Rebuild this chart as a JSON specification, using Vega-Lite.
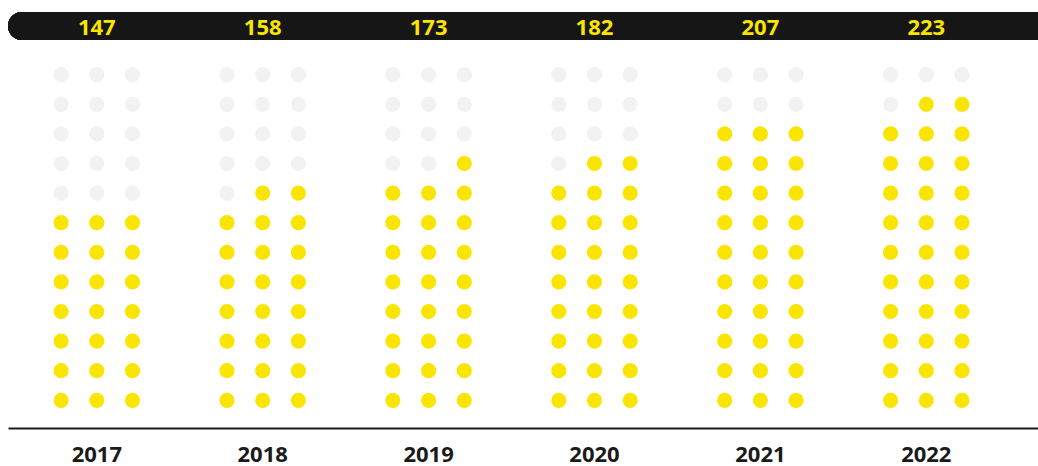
{
  "$schema": "https://vega.github.io/schema/vega-lite/v6.json",
  "width": 1030,
  "height": 428,
  "autosize": {"type": "none"},
  "padding": {"left": 8, "top": 0, "right": 0, "bottom": 38},
  "background": "#ffffff",
  "config": {"view": {"stroke": null}},
  "datasets": {
    "totals": [
      {"year": "2017", "value": 147},
      {"year": "2018", "value": 158},
      {"year": "2019", "value": 173},
      {"year": "2020", "value": 182},
      {"year": "2021", "value": 207},
      {"year": "2022", "value": 223}
    ],
    "dots": [
      {"year":"2017","col":1,"row":1,"status":"filled"},{"year":"2017","col":2,"row":1,"status":"filled"},{"year":"2017","col":3,"row":1,"status":"filled"},
      {"year":"2017","col":1,"row":2,"status":"filled"},{"year":"2017","col":2,"row":2,"status":"filled"},{"year":"2017","col":3,"row":2,"status":"filled"},
      {"year":"2017","col":1,"row":3,"status":"filled"},{"year":"2017","col":2,"row":3,"status":"filled"},{"year":"2017","col":3,"row":3,"status":"filled"},
      {"year":"2017","col":1,"row":4,"status":"filled"},{"year":"2017","col":2,"row":4,"status":"filled"},{"year":"2017","col":3,"row":4,"status":"filled"},
      {"year":"2017","col":1,"row":5,"status":"filled"},{"year":"2017","col":2,"row":5,"status":"filled"},{"year":"2017","col":3,"row":5,"status":"filled"},
      {"year":"2017","col":1,"row":6,"status":"filled"},{"year":"2017","col":2,"row":6,"status":"filled"},{"year":"2017","col":3,"row":6,"status":"filled"},
      {"year":"2017","col":1,"row":7,"status":"filled"},{"year":"2017","col":2,"row":7,"status":"filled"},{"year":"2017","col":3,"row":7,"status":"filled"},
      {"year":"2017","col":1,"row":8,"status":"empty"},{"year":"2017","col":2,"row":8,"status":"empty"},{"year":"2017","col":3,"row":8,"status":"empty"},
      {"year":"2017","col":1,"row":9,"status":"empty"},{"year":"2017","col":2,"row":9,"status":"empty"},{"year":"2017","col":3,"row":9,"status":"empty"},
      {"year":"2017","col":1,"row":10,"status":"empty"},{"year":"2017","col":2,"row":10,"status":"empty"},{"year":"2017","col":3,"row":10,"status":"empty"},
      {"year":"2017","col":1,"row":11,"status":"empty"},{"year":"2017","col":2,"row":11,"status":"empty"},{"year":"2017","col":3,"row":11,"status":"empty"},
      {"year":"2017","col":1,"row":12,"status":"empty"},{"year":"2017","col":2,"row":12,"status":"empty"},{"year":"2017","col":3,"row":12,"status":"empty"},

      {"year":"2018","col":1,"row":1,"status":"filled"},{"year":"2018","col":2,"row":1,"status":"filled"},{"year":"2018","col":3,"row":1,"status":"filled"},
      {"year":"2018","col":1,"row":2,"status":"filled"},{"year":"2018","col":2,"row":2,"status":"filled"},{"year":"2018","col":3,"row":2,"status":"filled"},
      {"year":"2018","col":1,"row":3,"status":"filled"},{"year":"2018","col":2,"row":3,"status":"filled"},{"year":"2018","col":3,"row":3,"status":"filled"},
      {"year":"2018","col":1,"row":4,"status":"filled"},{"year":"2018","col":2,"row":4,"status":"filled"},{"year":"2018","col":3,"row":4,"status":"filled"},
      {"year":"2018","col":1,"row":5,"status":"filled"},{"year":"2018","col":2,"row":5,"status":"filled"},{"year":"2018","col":3,"row":5,"status":"filled"},
      {"year":"2018","col":1,"row":6,"status":"filled"},{"year":"2018","col":2,"row":6,"status":"filled"},{"year":"2018","col":3,"row":6,"status":"filled"},
      {"year":"2018","col":1,"row":7,"status":"filled"},{"year":"2018","col":2,"row":7,"status":"filled"},{"year":"2018","col":3,"row":7,"status":"filled"},
      {"year":"2018","col":1,"row":8,"status":"empty"},{"year":"2018","col":2,"row":8,"status":"filled"},{"year":"2018","col":3,"row":8,"status":"filled"},
      {"year":"2018","col":1,"row":9,"status":"empty"},{"year":"2018","col":2,"row":9,"status":"empty"},{"year":"2018","col":3,"row":9,"status":"empty"},
      {"year":"2018","col":1,"row":10,"status":"empty"},{"year":"2018","col":2,"row":10,"status":"empty"},{"year":"2018","col":3,"row":10,"status":"empty"},
      {"year":"2018","col":1,"row":11,"status":"empty"},{"year":"2018","col":2,"row":11,"status":"empty"},{"year":"2018","col":3,"row":11,"status":"empty"},
      {"year":"2018","col":1,"row":12,"status":"empty"},{"year":"2018","col":2,"row":12,"status":"empty"},{"year":"2018","col":3,"row":12,"status":"empty"},

      {"year":"2019","col":1,"row":1,"status":"filled"},{"year":"2019","col":2,"row":1,"status":"filled"},{"year":"2019","col":3,"row":1,"status":"filled"},
      {"year":"2019","col":1,"row":2,"status":"filled"},{"year":"2019","col":2,"row":2,"status":"filled"},{"year":"2019","col":3,"row":2,"status":"filled"},
      {"year":"2019","col":1,"row":3,"status":"filled"},{"year":"2019","col":2,"row":3,"status":"filled"},{"year":"2019","col":3,"row":3,"status":"filled"},
      {"year":"2019","col":1,"row":4,"status":"filled"},{"year":"2019","col":2,"row":4,"status":"filled"},{"year":"2019","col":3,"row":4,"status":"filled"},
      {"year":"2019","col":1,"row":5,"status":"filled"},{"year":"2019","col":2,"row":5,"status":"filled"},{"year":"2019","col":3,"row":5,"status":"filled"},
      {"year":"2019","col":1,"row":6,"status":"filled"},{"year":"2019","col":2,"row":6,"status":"filled"},{"year":"2019","col":3,"row":6,"status":"filled"},
      {"year":"2019","col":1,"row":7,"status":"filled"},{"year":"2019","col":2,"row":7,"status":"filled"},{"year":"2019","col":3,"row":7,"status":"filled"},
      {"year":"2019","col":1,"row":8,"status":"filled"},{"year":"2019","col":2,"row":8,"status":"filled"},{"year":"2019","col":3,"row":8,"status":"filled"},
      {"year":"2019","col":1,"row":9,"status":"empty"},{"year":"2019","col":2,"row":9,"status":"empty"},{"year":"2019","col":3,"row":9,"status":"filled"},
      {"year":"2019","col":1,"row":10,"status":"empty"},{"year":"2019","col":2,"row":10,"status":"empty"},{"year":"2019","col":3,"row":10,"status":"empty"},
      {"year":"2019","col":1,"row":11,"status":"empty"},{"year":"2019","col":2,"row":11,"status":"empty"},{"year":"2019","col":3,"row":11,"status":"empty"},
      {"year":"2019","col":1,"row":12,"status":"empty"},{"year":"2019","col":2,"row":12,"status":"empty"},{"year":"2019","col":3,"row":12,"status":"empty"},

      {"year":"2020","col":1,"row":1,"status":"filled"},{"year":"2020","col":2,"row":1,"status":"filled"},{"year":"2020","col":3,"row":1,"status":"filled"},
      {"year":"2020","col":1,"row":2,"status":"filled"},{"year":"2020","col":2,"row":2,"status":"filled"},{"year":"2020","col":3,"row":2,"status":"filled"},
      {"year":"2020","col":1,"row":3,"status":"filled"},{"year":"2020","col":2,"row":3,"status":"filled"},{"year":"2020","col":3,"row":3,"status":"filled"},
      {"year":"2020","col":1,"row":4,"status":"filled"},{"year":"2020","col":2,"row":4,"status":"filled"},{"year":"2020","col":3,"row":4,"status":"filled"},
      {"year":"2020","col":1,"row":5,"status":"filled"},{"year":"2020","col":2,"row":5,"status":"filled"},{"year":"2020","col":3,"row":5,"status":"filled"},
      {"year":"2020","col":1,"row":6,"status":"filled"},{"year":"2020","col":2,"row":6,"status":"filled"},{"year":"2020","col":3,"row":6,"status":"filled"},
      {"year":"2020","col":1,"row":7,"status":"filled"},{"year":"2020","col":2,"row":7,"status":"filled"},{"year":"2020","col":3,"row":7,"status":"filled"},
      {"year":"2020","col":1,"row":8,"status":"filled"},{"year":"2020","col":2,"row":8,"status":"filled"},{"year":"2020","col":3,"row":8,"status":"filled"},
      {"year":"2020","col":1,"row":9,"status":"empty"},{"year":"2020","col":2,"row":9,"status":"filled"},{"year":"2020","col":3,"row":9,"status":"filled"},
      {"year":"2020","col":1,"row":10,"status":"empty"},{"year":"2020","col":2,"row":10,"status":"empty"},{"year":"2020","col":3,"row":10,"status":"empty"},
      {"year":"2020","col":1,"row":11,"status":"empty"},{"year":"2020","col":2,"row":11,"status":"empty"},{"year":"2020","col":3,"row":11,"status":"empty"},
      {"year":"2020","col":1,"row":12,"status":"empty"},{"year":"2020","col":2,"row":12,"status":"empty"},{"year":"2020","col":3,"row":12,"status":"empty"},

      {"year":"2021","col":1,"row":1,"status":"filled"},{"year":"2021","col":2,"row":1,"status":"filled"},{"year":"2021","col":3,"row":1,"status":"filled"},
      {"year":"2021","col":1,"row":2,"status":"filled"},{"year":"2021","col":2,"row":2,"status":"filled"},{"year":"2021","col":3,"row":2,"status":"filled"},
      {"year":"2021","col":1,"row":3,"status":"filled"},{"year":"2021","col":2,"row":3,"status":"filled"},{"year":"2021","col":3,"row":3,"status":"filled"},
      {"year":"2021","col":1,"row":4,"status":"filled"},{"year":"2021","col":2,"row":4,"status":"filled"},{"year":"2021","col":3,"row":4,"status":"filled"},
      {"year":"2021","col":1,"row":5,"status":"filled"},{"year":"2021","col":2,"row":5,"status":"filled"},{"year":"2021","col":3,"row":5,"status":"filled"},
      {"year":"2021","col":1,"row":6,"status":"filled"},{"year":"2021","col":2,"row":6,"status":"filled"},{"year":"2021","col":3,"row":6,"status":"filled"},
      {"year":"2021","col":1,"row":7,"status":"filled"},{"year":"2021","col":2,"row":7,"status":"filled"},{"year":"2021","col":3,"row":7,"status":"filled"},
      {"year":"2021","col":1,"row":8,"status":"filled"},{"year":"2021","col":2,"row":8,"status":"filled"},{"year":"2021","col":3,"row":8,"status":"filled"},
      {"year":"2021","col":1,"row":9,"status":"filled"},{"year":"2021","col":2,"row":9,"status":"filled"},{"year":"2021","col":3,"row":9,"status":"filled"},
      {"year":"2021","col":1,"row":10,"status":"filled"},{"year":"2021","col":2,"row":10,"status":"filled"},{"year":"2021","col":3,"row":10,"status":"filled"},
      {"year":"2021","col":1,"row":11,"status":"empty"},{"year":"2021","col":2,"row":11,"status":"empty"},{"year":"2021","col":3,"row":11,"status":"empty"},
      {"year":"2021","col":1,"row":12,"status":"empty"},{"year":"2021","col":2,"row":12,"status":"empty"},{"year":"2021","col":3,"row":12,"status":"empty"},

      {"year":"2022","col":1,"row":1,"status":"filled"},{"year":"2022","col":2,"row":1,"status":"filled"},{"year":"2022","col":3,"row":1,"status":"filled"},
      {"year":"2022","col":1,"row":2,"status":"filled"},{"year":"2022","col":2,"row":2,"status":"filled"},{"year":"2022","col":3,"row":2,"status":"filled"},
      {"year":"2022","col":1,"row":3,"status":"filled"},{"year":"2022","col":2,"row":3,"status":"filled"},{"year":"2022","col":3,"row":3,"status":"filled"},
      {"year":"2022","col":1,"row":4,"status":"filled"},{"year":"2022","col":2,"row":4,"status":"filled"},{"year":"2022","col":3,"row":4,"status":"filled"},
      {"year":"2022","col":1,"row":5,"status":"filled"},{"year":"2022","col":2,"row":5,"status":"filled"},{"year":"2022","col":3,"row":5,"status":"filled"},
      {"year":"2022","col":1,"row":6,"status":"filled"},{"year":"2022","col":2,"row":6,"status":"filled"},{"year":"2022","col":3,"row":6,"status":"filled"},
      {"year":"2022","col":1,"row":7,"status":"filled"},{"year":"2022","col":2,"row":7,"status":"filled"},{"year":"2022","col":3,"row":7,"status":"filled"},
      {"year":"2022","col":1,"row":8,"status":"filled"},{"year":"2022","col":2,"row":8,"status":"filled"},{"year":"2022","col":3,"row":8,"status":"filled"},
      {"year":"2022","col":1,"row":9,"status":"filled"},{"year":"2022","col":2,"row":9,"status":"filled"},{"year":"2022","col":3,"row":9,"status":"filled"},
      {"year":"2022","col":1,"row":10,"status":"filled"},{"year":"2022","col":2,"row":10,"status":"filled"},{"year":"2022","col":3,"row":10,"status":"filled"},
      {"year":"2022","col":1,"row":11,"status":"empty"},{"year":"2022","col":2,"row":11,"status":"filled"},{"year":"2022","col":3,"row":11,"status":"filled"},
      {"year":"2022","col":1,"row":12,"status":"empty"},{"year":"2022","col":2,"row":12,"status":"empty"},{"year":"2022","col":3,"row":12,"status":"empty"}
    ]
  },
  "layer": [
    {
      "data": {"name": "dots"},
      "mark": {"type": "circle", "size": 230, "opacity": 1},
      "encoding": {
        "x": {
          "field": "year", "type": "ordinal",
          "scale": {"paddingInner": 0, "paddingOuter": 0.1043, "align": 0.169},
          "axis": {
            "title": null, "orient": "bottom", "ticks": false, "tickSize": 0,
            "domain": true, "domainColor": "#1a1a1a", "domainWidth": 2,
            "labelPadding": 33, "labelBaseline": "alphabetic", "labelAngle": 0,
            "labelFont": "Open Sans",
            "labelFontSize": 22, "labelFontWeight": "bold", "labelColor": "#1a1a1a",
            "grid": false
          }
        },
        "xOffset": {
          "field": "col", "type": "ordinal",
          "scale": {"type": "band", "paddingInner": 0, "paddingOuter": 0.8235}
        },
        "y": {
          "field": "row", "type": "quantitative",
          "scale": {"domain": [0.064, 14.523], "nice": false, "zero": false},
          "axis": null
        },
        "color": {
          "field": "status", "type": "nominal",
          "scale": {"domain": ["filled", "empty"], "range": ["#FAE500", "#F2F2F2"]},
          "legend": null
        }
      }
    },
    {
      "data": {"name": "totals"},
      "mark": {"type": "rect", "color": "#161616", "cornerRadiusTopLeft": 14, "cornerRadiusBottomLeft": 14},
      "encoding": {
        "y": {"datum": 13.172, "type": "quantitative"},
        "y2": {"datum": 14.118}
      }
    },
    {
      "data": {"name": "totals"},
      "mark": {
        "type": "text", "color": "#FAE500", "baseline": "alphabetic", "align": "center",
        "font": "Open Sans",
        "fontSize": 22, "fontWeight": "bold"
      },
      "encoding": {
        "x": {"field": "year", "type": "ordinal"},
        "y": {"datum": 13.35, "type": "quantitative"},
        "text": {"field": "value", "type": "quantitative"}
      }
    }
  ]
}
